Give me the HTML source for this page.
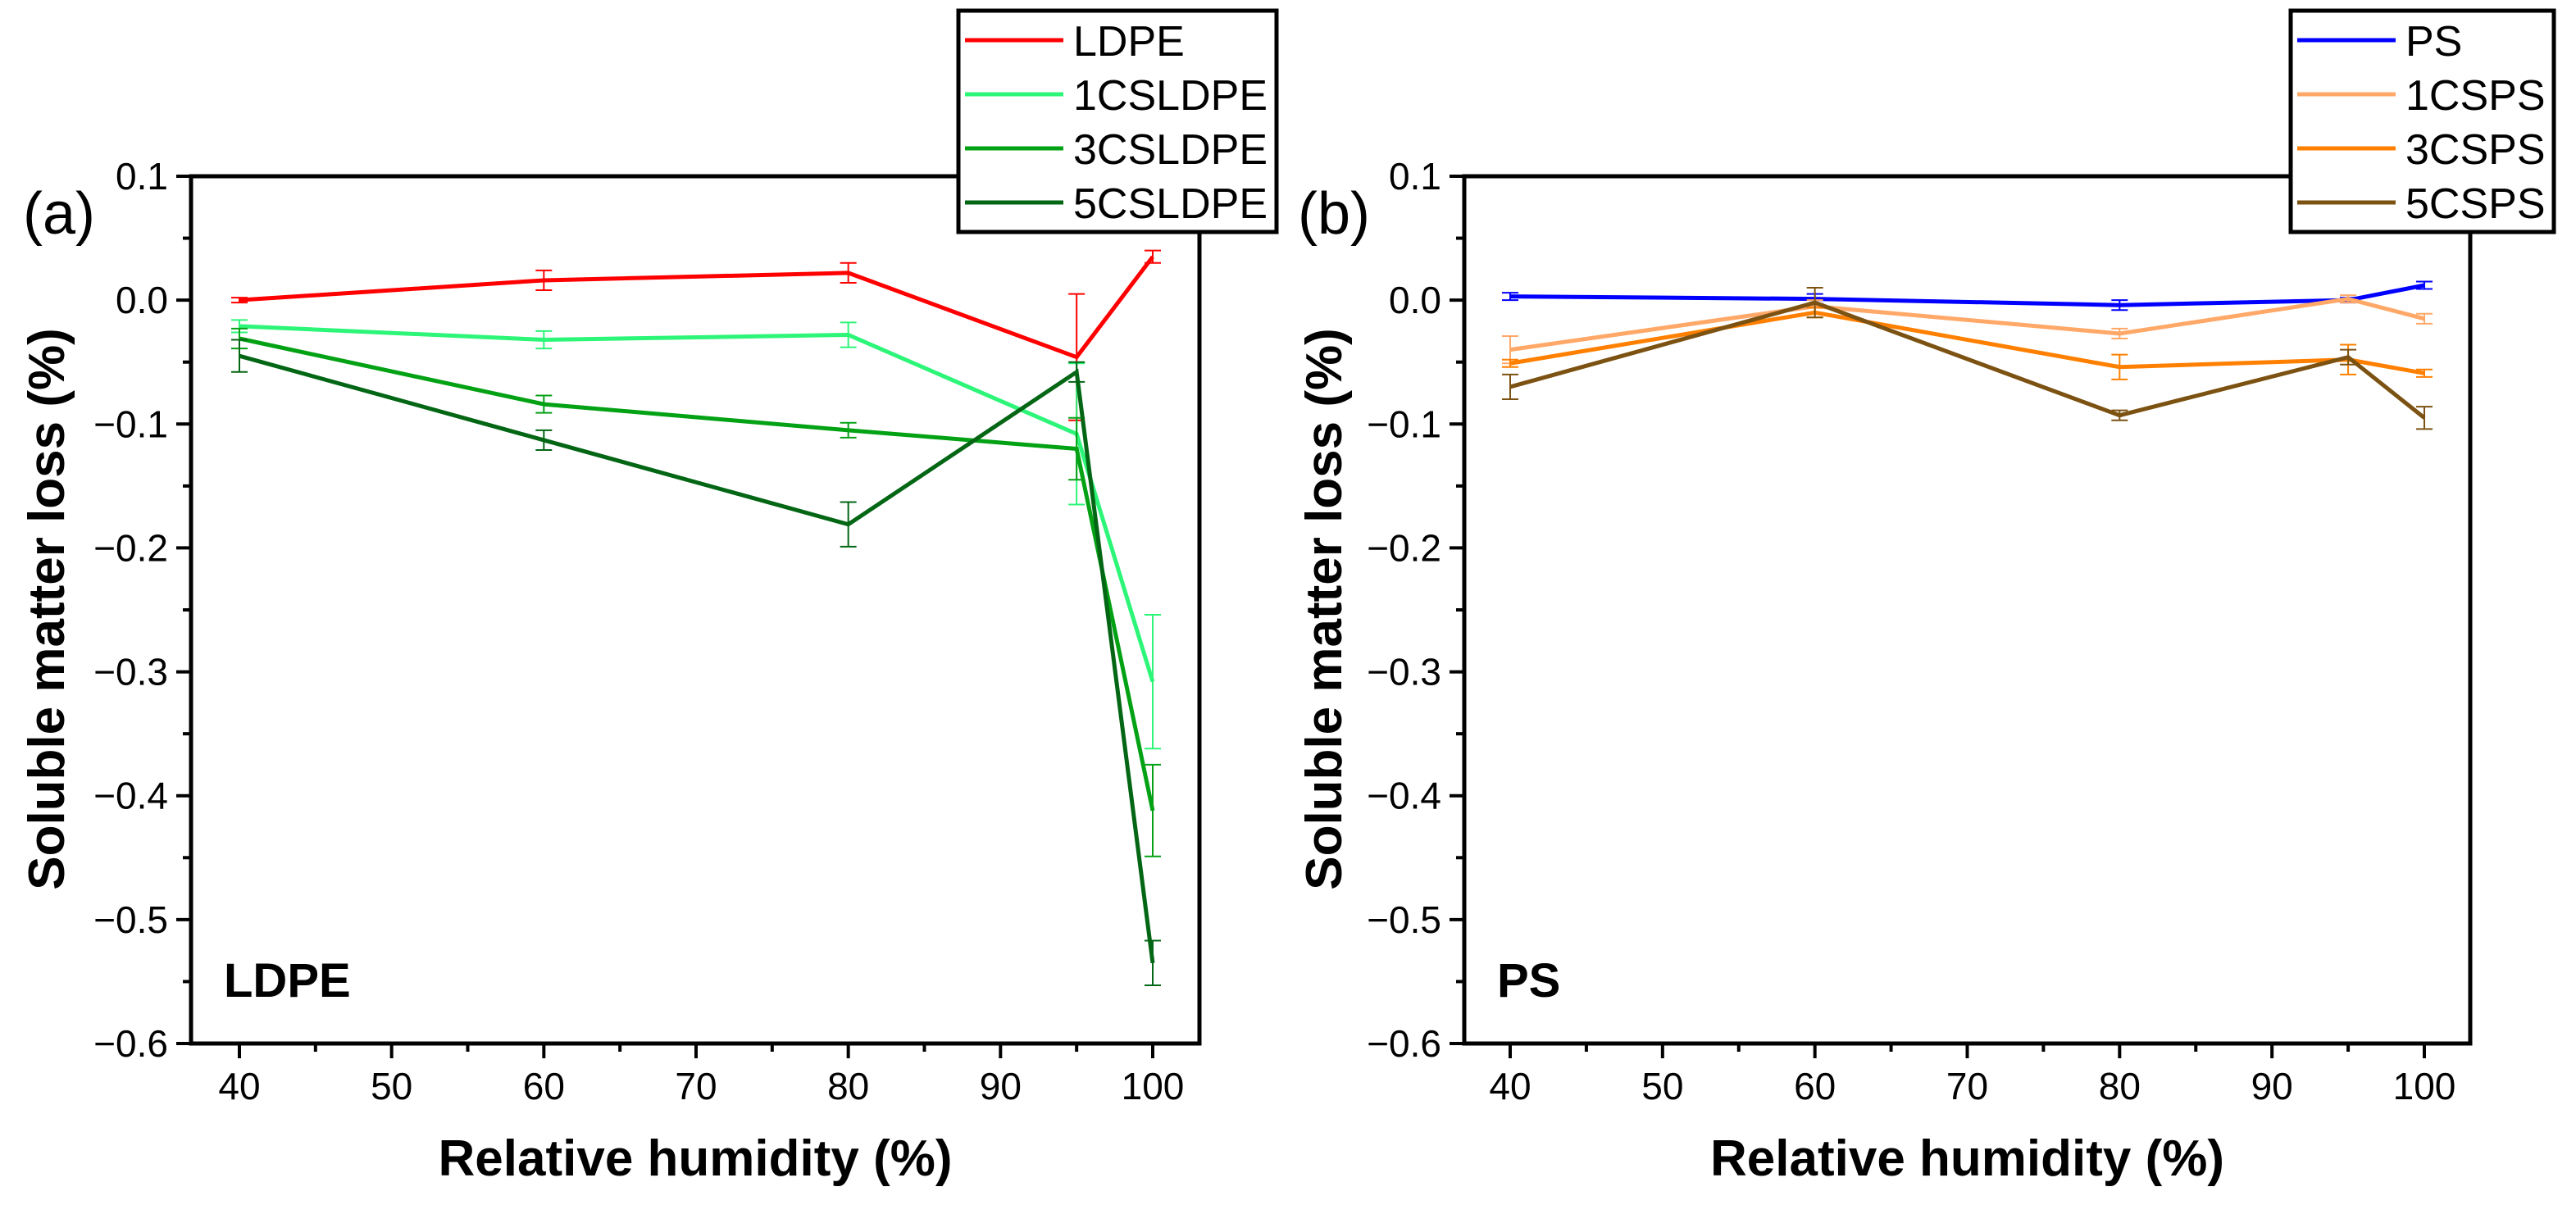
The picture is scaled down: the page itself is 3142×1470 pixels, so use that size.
<!DOCTYPE html>
<html><head><meta charset="utf-8"><style>
html,body{margin:0;padding:0;background:#fff;}
svg{display:block;font-family:"Liberation Sans",Arial,sans-serif;}
</style></head><body>
<svg id="chart" width="3142" height="1470" viewBox="0 0 3142 1470" xmlns="http://www.w3.org/2000/svg"></svg>
<script>
const xCats = [40, 60, 80, 95, 100];
const xTicks = [40, 50, 60, 70, 80, 90, 100];
const yTicks = [0.1, 0.0, -0.1, -0.2, -0.3, -0.4, -0.5, -0.6];
const yTickLabels = ["0.1", "0.0", "\u22120.1", "\u22120.2", "\u22120.3", "\u22120.4", "\u22120.5", "\u22120.6"];

const ldpe = [0.000, 0.016, 0.022, -0.046, 0.035];
const ldpeErr = [0.002, 0.008, 0.008, 0.051, 0.005];
const cs1ldpe = [-0.021, -0.032, -0.028, -0.108, -0.308];
const cs1ldpeErr = [0.005, 0.007, 0.010, 0.057, 0.054];
const cs3ldpe = [-0.031, -0.084, -0.105, -0.120, -0.412];
const cs3ldpeErr = [0.008, 0.007, 0.006, 0.025, 0.037];
const cs5ldpe = [-0.045, -0.113, -0.181, -0.058, -0.535];
const cs5ldpeErr = [0.013, 0.008, 0.018, 0.008, 0.018];

const ps = [0.003, 0.001, -0.004, 0.000, 0.012];
const psErr = [0.003, 0.004, 0.004, 0.002, 0.003];
const cs1ps = [-0.040, -0.005, -0.027, 0.001, -0.015];
const cs1psErr = [0.011, 0.005, 0.004, 0.003, 0.004];
const cs3ps = [-0.051, -0.010, -0.054, -0.048, -0.059];
const cs3psErr = [0.003, 0.004, 0.010, 0.012, 0.003];
const cs5ps = [-0.070, -0.002, -0.093, -0.046, -0.095];
const cs5psErr = [0.010, 0.012, 0.004, 0.006, 0.009];

const NS = "http://www.w3.org/2000/svg";
const svg = document.getElementById('chart');
function mk(tag, attrs, parent, text) {
  const e = document.createElementNS(NS, tag);
  for (const k in attrs) e.setAttribute(k, attrs[k]);
  if (text !== undefined) e.textContent = text;
  (parent || svg).appendChild(e);
  return e;
}

function panel(cfg) {
  const g = mk('g', {});
  
  
  const L = cfg.left, R = cfg.right, T = 215, B = 1273;
  const x0 = cfg.x40, x1 = cfg.x100;
  const xs = v => x0 + (v - 40) * (x1 - x0) / 60;
  const ys = v => T + (0.1 - v) * (B - T) / 0.7;

  // series
  cfg.series.forEach(s => {
    const sg = mk('g', {}, g);
    
    
    const pts = s.vals.map((v, i) => xs(xCats[i]) + ',' + ys(v)).join(' ');
    const pl = mk('polyline', {points: pts, fill: 'none', stroke: s.color, 'stroke-width': 5, 'stroke-linejoin': 'miter'}, sg);
    
    
    s.vals.forEach((v, i) => {
      const cx = xs(xCats[i]), e = s.err[i];
      const eb = mk('path', {d: `M${cx},${ys(v + e)}V${ys(v - e)}M${cx - 10},${ys(v + e)}H${cx + 10}M${cx - 10},${ys(v - e)}H${cx + 10}`, stroke: s.color, 'stroke-width': 2, fill: 'none'}, sg);
      
      
    });
  });

  // frame
  const fr = mk('rect', {x: L, y: T, width: R - L, height: B - T, fill: 'none', stroke: '#000', 'stroke-width': 5}, g);
  
  

  // y ticks
  yTicks.forEach((v, i) => {
    const y = ys(v);
    mk('line', {x1: L - 18, x2: L, y1: y, y2: y, stroke: '#000', 'stroke-width': 4}, g);
    if (i < yTicks.length - 1) {
      const ym = ys(v - 0.05);
      mk('line', {x1: L - 10, x2: L, y1: ym, y2: ym, stroke: '#000', 'stroke-width': 4}, g);
    }
    const t = mk('text', {x: L - 28, y: y + 16, 'text-anchor': 'end', 'font-size': 46}, g, yTickLabels[i]);
    
    
  });
  // x ticks
  xTicks.forEach((v, i) => {
    const x = xs(v);
    mk('line', {x1: x, x2: x, y1: B, y2: B + 18, stroke: '#000', 'stroke-width': 4}, g);
    if (i < xTicks.length - 1) {
      const xm = xs(v + 5);
      mk('line', {x1: xm, x2: xm, y1: B, y2: B + 10, stroke: '#000', 'stroke-width': 4}, g);
    }
    const t = mk('text', {x: x, y: 1341, 'text-anchor': 'middle', 'font-size': 46}, g, String(v));
    
    
  });

  const xt = mk('text', {x: (L + R) / 2, y: 1434, 'text-anchor': 'middle', 'font-size': 62, 'font-weight': 'bold'}, g, 'Relative humidity (%)');
  
  
  const yt = mk('text', {x: 0, y: 0, 'text-anchor': 'middle', 'font-size': 62, 'font-weight': 'bold', transform: `translate(${cfg.ytx},743) rotate(-90)`}, g, 'Soluble matter loss (%)');
  
  
  const pl = mk('text', {x: cfg.plx, y: 285, 'font-size': 72}, g, cfg.panelLabel);
  
  
  const il = mk('text', {x: L + 40, y: 1216, 'font-size': 58, 'font-weight': 'bold'}, g, cfg.inner);
  
  

  // legend
  const lg = mk('g', {}, g);
  
  
  mk('rect', {x: cfg.lgx, y: 13, width: cfg.lgw, height: 270, fill: '#fff', stroke: '#000', 'stroke-width': 5}, lg);
  cfg.series.forEach((s, i) => {
    const y = 49 + i * 66;
    const ent = mk('g', {}, lg);
    
    
    mk('line', {x1: cfg.lgx + 8, x2: cfg.lgx + 128, y1: y, y2: y, stroke: s.color, 'stroke-width': 5}, ent);
    mk('text', {x: cfg.lgx + 140, y: y + 19, 'font-size': 52}, ent, s.label);
  });
}

panel({name: 'ldpe-panel', left: 233, right: 1463, x40: 292, x100: 1406, ytx: 78, plx: 28, panelLabel: '(a)', inner: 'LDPE',
  lgx: 1169, lgw: 388,
  series: [
    {label: 'LDPE', color: '#ff0000', vals: ldpe, err: ldpeErr},
    {label: '1CSLDPE', color: '#2cf578', vals: cs1ldpe, err: cs1ldpeErr},
    {label: '3CSLDPE', color: '#03a114', vals: cs3ldpe, err: cs3ldpeErr},
    {label: '5CSLDPE', color: '#026614', vals: cs5ldpe, err: cs5ldpeErr}
  ]});
panel({name: 'ps-panel', left: 1786, right: 3013, x40: 1842, x100: 2957, ytx: 1636, plx: 1583, panelLabel: '(b)', inner: 'PS',
  lgx: 2794, lgw: 321,
  series: [
    {label: 'PS', color: '#0000ff', vals: ps, err: psErr},
    {label: '1CSPS', color: '#ffa868', vals: cs1ps, err: cs1psErr},
    {label: '3CSPS', color: '#ff8000', vals: cs3ps, err: cs3psErr},
    {label: '5CSPS', color: '#7c5212', vals: cs5ps, err: cs5psErr}
  ]});
</script>
</body></html>
